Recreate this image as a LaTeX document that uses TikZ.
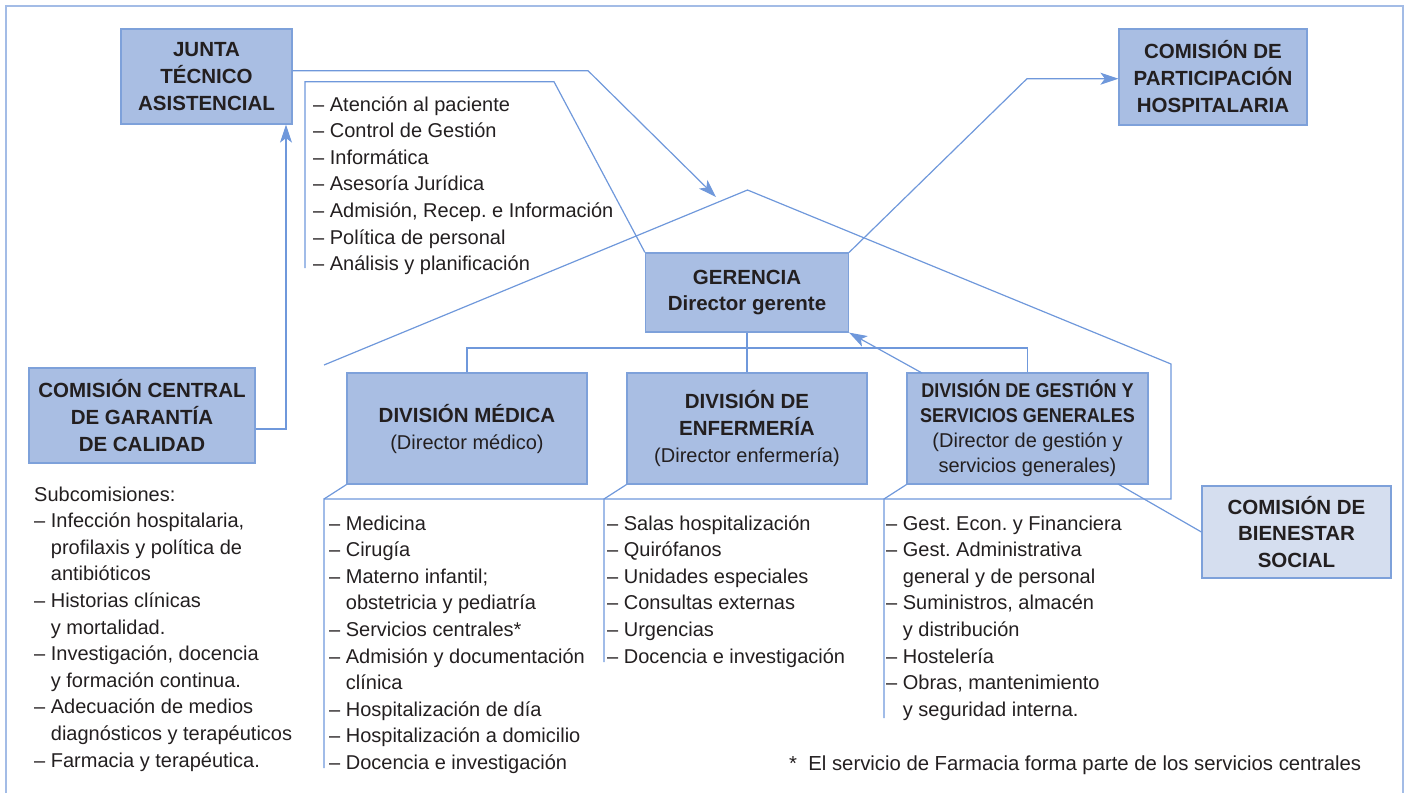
\documentclass[tikz,border=0pt]{standalone}
\usepackage{fontspec}
\setmainfont{Liberation Sans}
\newfontfamily\condfont[FakeStretch=0.9]{Liberation Sans}
\usetikzlibrary{arrows.meta}
\definecolor{boxfill}{HTML}{A9BEE3}
\definecolor{boxline}{HTML}{7EA1DA}
\definecolor{lightfill}{HTML}{D5DEEF}
\definecolor{linec}{HTML}{6F98DB}
\definecolor{framec}{HTML}{A3BCE6}
\definecolor{textc}{HTML}{231F20}
\frenchspacing
\begin{document}
\begin{tikzpicture}[x=1pt,y=-1pt,
 box/.style={draw=boxline, fill=boxfill, line width=1.2pt, inner sep=0pt, align=center, text=textc, font=\fontsize{20.5}{27}\selectfont\bfseries},
 lightbox/.style={box, fill=lightfill},
 conn/.style={draw=linec, line width=1.2pt},
 arr/.style={conn, -{Stealth[length=18pt,width=12pt,inset=4.5pt]}},
 listtxt/.style={anchor=base west, align=left, inner sep=0pt, text=textc, font=\fontsize{20}{26.6}\selectfont},
]
\useasboundingbox (0,0) rectangle (1408,793);
% frame
\draw[framec, line width=1.5pt] (6,793) -- (6,6) -- (1403,6) -- (1403,793);

% boxes
\node[box, minimum width=171pt, minimum height=95pt] (junta) at (206.5,76.5) {JUNTA\\TÉCNICO\\ASISTENCIAL};
\node[box, minimum width=188pt, minimum height=96pt] (partic) at (1213,77) {COMISIÓN DE\\PARTICIPACIÓN\\HOSPITALARIA};
\node[box, minimum width=203pt, minimum height=79pt, font=\fontsize{20.5}{26}\selectfont\bfseries] (geren) at (747,292.5) {GERENCIA\\Director gerente};
\node[box, minimum width=226pt, minimum height=95pt] (cccal) at (142,415.5) {COMISIÓN CENTRAL\\DE GARANTÍA\\DE CALIDAD};
\node[box, minimum width=240pt, minimum height=111pt] (medica) at (467,428.5) {DIVISIÓN MÉDICA\\\mdseries\fontsize{20}{27}\selectfont (Director médico)};
\node[box, minimum width=240pt, minimum height=111pt] (enfer) at (747,428.5) {DIVISIÓN DE\\ENFERMERÍA\\\mdseries\fontsize{20}{27}\selectfont (Director enfermería)};
\node[box, minimum width=241pt, minimum height=111pt, font=\fontsize{20}{25}\selectfont] (gesti) at (1027.5,428.5) {\condfont\bfseries DIVISIÓN DE GESTIÓN Y\\\condfont\bfseries SERVICIOS GENERALES\\\normalfont (Director de gestión y\\\normalfont servicios generales)};
\node[lightbox, minimum width=189pt, minimum height=92pt, font=\fontsize{20.5}{26.3}\selectfont\bfseries] (bienes) at (1296.5,532) {COMISIÓN DE\\BIENESTAR\\SOCIAL};

% list texts (base = baseline of last line)
\node[listtxt] (lgeren) at (313,270.7) {– Atención al paciente\\– Control de Gestión\\– Informática\\– Asesoría Jurídica\\– Admisión, Recep. e Información\\– Política de personal\\– Análisis y planificación};
\node[listtxt] (lsub) at (34,767) {Subcomisiones:\\– Infección hospitalaria,\\\phantom{– }profilaxis y política de\\\phantom{– }antibióticos\\– Historias clínicas\\\phantom{– }y mortalidad.\\– Investigación, docencia\\\phantom{– }y formación continua.\\– Adecuación de medios\\\phantom{– }diagnósticos y terapéuticos\\– Farmacia y terapéutica.};
\node[listtxt] (lmed) at (329,769.4) {– Medicina\\– Cirugía\\– Materno infantil;\\\phantom{– }obstetricia y pediatría\\– Servicios centrales*\\– Admisión y documentación\\\phantom{– }clínica\\– Hospitalización de día\\– Hospitalización a domicilio\\– Docencia e investigación};
\node[listtxt] (lenf) at (607,663) {– Salas hospitalización\\– Quirófanos\\– Unidades especiales\\– Consultas externas\\– Urgencias\\– Docencia e investigación};
\node[listtxt] (lges) at (886,716.2) {– Gest. Econ. y Financiera\\– Gest. Administrativa\\\phantom{– }general y de personal\\– Suministros, almacén\\\phantom{– }y distribución\\– Hostelería\\– Obras, mantenimiento\\\phantom{– }y seguridad interna.};
\node[listtxt, font=\fontsize{20.3}{26.6}\selectfont] (foot) at (789,770) {*\ \ El servicio de Farmacia forma parte de los servicios centrales};

% coordinates
\coordinate (jB) at (588,70.7);
\coordinate (jTip) at (716,197);
\coordinate (lb1) at (305,268);
\coordinate (lb2) at (305,81.7);
\coordinate (lb3) at (554,81.7);
\coordinate (pc) at (1027,78.7);
\coordinate (cc) at (286,429);
\coordinate (rL) at (324,365);
\coordinate (apex) at (747.5,190);
\coordinate (rR) at (1171,364);
\coordinate (rRb) at (1171,499);
\coordinate (bL) at (324,499);
\coordinate (bLe) at (324,768);
\coordinate (bM) at (604,499);
\coordinate (bMe) at (604,662);
\coordinate (bR) at (884,499);
\coordinate (bRe) at (884,718);
\coordinate (org) at (747,348);
\coordinate (g1) at (922,373);
\coordinate (g2) at (1118,484);

% connectors
\draw[arr] (junta.east |- jB) -- (jB) -- (jTip);
\draw[conn] (lb1) -- (lb2) -- (lb3) -- (geren.north west);
\draw[arr] (geren.north east) -- (pc) -- (partic.west |- pc);
\draw[arr] (cccal.east |- cc) -- (cc) -- (cc |- junta.south);
\draw[conn] (rL) -- (apex) -- (rR) -- (rRb) -- (bL) -- (bLe);
\draw[conn] (medica.south west) -- (bL);
\draw[conn] (enfer.south west) -- (bM) -- (bMe);
\draw[conn] (gesti.south west) -- (bR) -- (bRe);
\draw[conn] (geren.south) -- (enfer.north);
\draw[conn] (medica.north) |- (org) -| (gesti.north);
\draw[arr] (g1) -- (geren.south east);
\draw[conn] (g2) -- (bienes.west);
\end{tikzpicture}
\end{document}
